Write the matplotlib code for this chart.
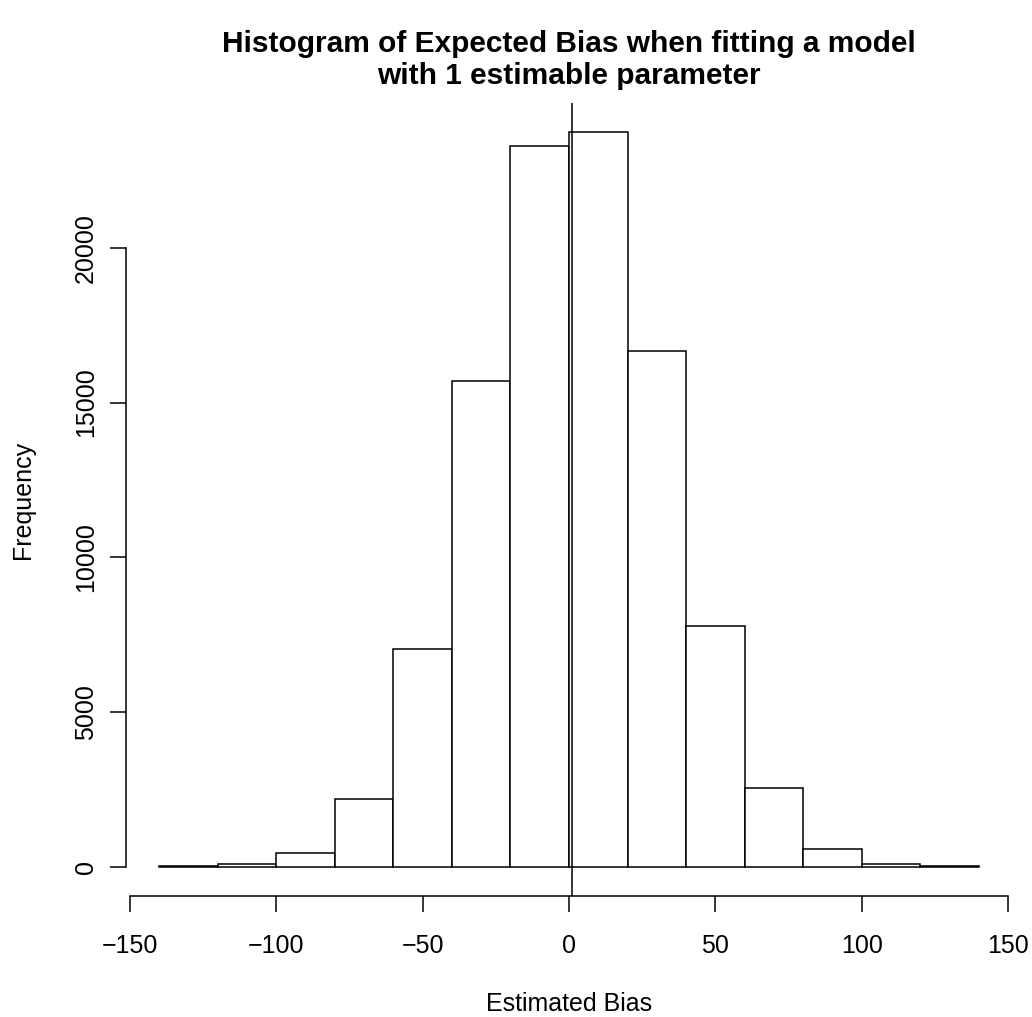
import numpy as np
import matplotlib.pyplot as plt

plt.rcParams['font.family'] = ['Liberation Sans', 'DejaVu Sans']

# histogram bins and counts
edges = [-140, -120, -100, -80, -60, -40, -20, 0, 20, 40, 60, 80, 100, 120, 140]
counts = [15, 85, 430, 2190, 7030, 15700, 23290, 23730, 16650, 7790, 2530, 560, 95, 12]
mean_bias = 1.1

fig = plt.figure(figsize=(10.32, 10.17), dpi=100)
ax = fig.add_axes([0.1225, 0.119, 0.8577, 0.7797])

widths = np.diff(edges)
ax.bar(edges[:-1], counts, width=widths, align='edge', color='white',
       edgecolor='black', linewidth=1.1)
ax.axvline(mean_bias, color='black', linewidth=1.1)

xr = edges[-1] - edges[0]
ax.set_xlim(edges[0] - 0.04 * xr, edges[-1] + 0.04 * xr)
ymax = max(counts)
ax.set_ylim(-0.04 * ymax, ymax * 1.04)

ax.spines['top'].set_visible(False)
ax.spines['right'].set_visible(False)
ax.spines['left'].set_bounds(0, 20000)
ax.spines['bottom'].set_bounds(-150, 150)
for s in ('left', 'bottom'):
    ax.spines[s].set_linewidth(1.1)

ax.set_xticks([-150, -100, -50, 0, 50, 100, 150])
ax.set_xticklabels(['\u2212150', '\u2212100', '\u221250', '0', '50', '100', '150'])
ax.set_yticks([0, 5000, 10000, 15000, 20000])
ax.set_yticklabels(['0', '5000', '10000', '15000', '20000'], rotation=90, va='center')
ax.tick_params(direction='out', length=11.5, width=1.1, labelsize=18)
ax.tick_params(axis='x', pad=16)
ax.tick_params(axis='y', pad=9)

ax.set_xlabel('Estimated Bias', fontsize=18, labelpad=24)
ax.set_ylabel('Frequency', fontsize=18, labelpad=28)
ax.set_title('Histogram of Expected Bias when fitting a model\nwith 1 estimable parameter',
             fontsize=21.5, fontweight='bold', pad=14, linespacing=1.15)

fig.savefig('out.png', dpi=100)
